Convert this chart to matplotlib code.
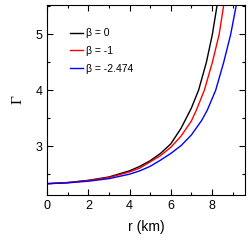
import matplotlib
matplotlib.use('Agg')
import matplotlib.pyplot as plt
from matplotlib.ticker import MultipleLocator

# values
r_b0 = [0, 1, 2, 3, 4, 4.5, 5, 5.5, 6, 6.5, 7, 7.35, 7.73, 8.02, 8.25]
g_b0 = [2.33, 2.35, 2.39, 2.45, 2.56, 2.64, 2.74, 2.87, 3.04, 3.32, 3.68, 4.0, 4.5, 5.0, 5.52]

r_b1 = [0, 1, 2, 3, 4, 4.5, 5, 5.5, 6, 6.5, 7, 7.25, 7.63, 8.02, 8.35, 8.57]
g_b1 = [2.33, 2.35, 2.385, 2.44, 2.54, 2.61, 2.72, 2.83, 2.98, 3.18, 3.45, 3.65, 4.0, 4.5, 5.0, 5.52]

r_b2 = [0, 1, 2, 3, 4, 4.5, 5, 5.5, 6, 6.5, 7, 7.5, 7.78, 8.18, 8.57, 8.91, 9.18]
g_b2 = [2.33, 2.345, 2.375, 2.42, 2.50, 2.56, 2.64, 2.75, 2.87, 3.01, 3.2, 3.46, 3.65, 4.0, 4.5, 5.0, 5.52]

labels = ['β = 0', 'β = -1', 'β = -2.474']
colors = ['black', 'red', 'blue']

plt.rcParams['font.family'] = ['Liberation Sans', 'DejaVu Sans']
fig = plt.figure(figsize=(2.52, 2.43), dpi=100)
ax = fig.add_axes([0.187, 0.198, 0.785, 0.781])

for r, g, lab, c in zip([r_b0, r_b1, r_b2], [g_b0, g_b1, g_b2], labels, colors):
    ax.plot(r, g, color=c, lw=1.0, label=lab)

ax.set_xlim(0, 9.6)
ax.set_ylim(2.13, 5.52)
ax.xaxis.set_major_locator(MultipleLocator(2))
ax.xaxis.set_minor_locator(MultipleLocator(1))
ax.yaxis.set_major_locator(MultipleLocator(1))
ax.yaxis.set_minor_locator(MultipleLocator(0.5))
ax.tick_params(which='both', direction='in', top=True, right=True, labelsize=9, width=0.8)
ax.tick_params(which='major', length=4)
ax.tick_params(which='minor', length=2.5)
for s in ax.spines.values():
    s.set_linewidth(0.8)

ax.set_xlabel('r (km)', fontsize=10, labelpad=6)
ax.set_ylabel('Γ', fontsize=11, family='Liberation Serif', rotation=90, labelpad=8)

ax.legend(loc='upper left', bbox_to_anchor=(0.096, 0.90), frameon=False, fontsize=7.5,
          handlelength=1.2, handletextpad=0.3, labelspacing=0.75, borderaxespad=0)

fig.savefig('out.png', dpi=100)
